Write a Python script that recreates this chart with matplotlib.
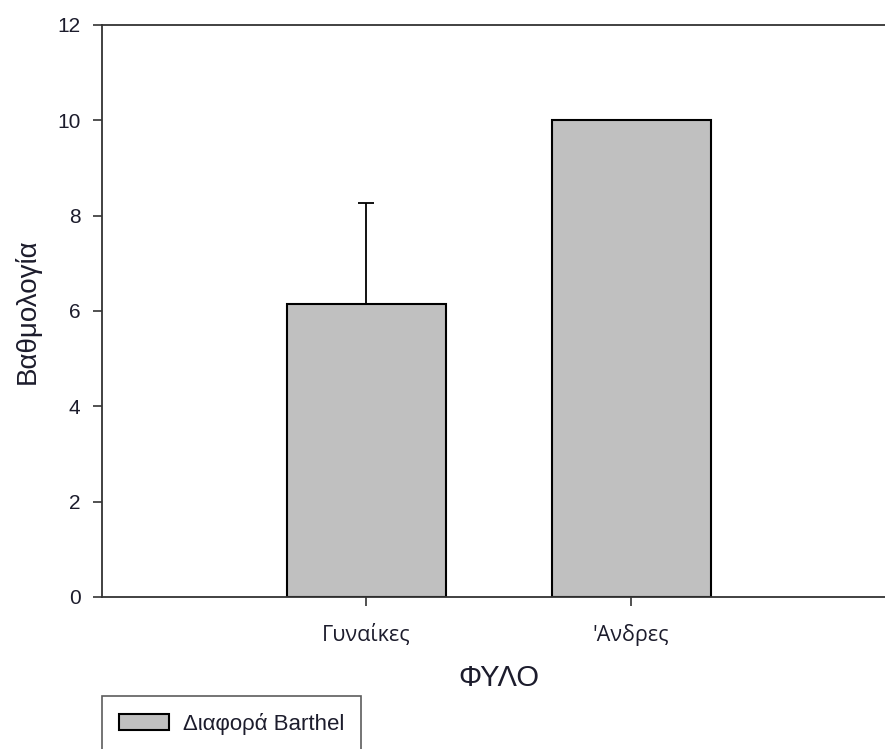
import matplotlib
matplotlib.use("Agg")
import matplotlib.pyplot as plt

categories = ["Γυναίκες", "'Ανδρες"]
values = [6.15, 10.0]
err_upper = [2.12, 0.0]
series_label = "Διαφορά Barthel"
yticks = [0, 2, 4, 6, 8, 10, 12]

text_color = "#1c1c2c"

fig = plt.figure(figsize=(8.85, 7.49), dpi=100)
ax = fig.add_axes([102/885, 152/749, 794/885, 572/749])

x = list(range(len(categories)))
bars = ax.bar(x, values, width=0.6, color="#c0c0c0", edgecolor="black",
              linewidth=1.5, label=series_label, zorder=2)
ax.errorbar(x, values, yerr=[[0]*len(values), err_upper], fmt="none",
            ecolor="black", elinewidth=1.3, capsize=6.1, capthick=1.3, zorder=1)

ax.set_xlim(-0.997, 2.0)
ax.set_ylim(0, 12)
ax.set_yticks(yticks)
ax.set_xticks(x)
ax.set_xticklabels(categories, fontfamily="Open Sans", fontsize=15.5, color=text_color)
for lbl in ax.get_yticklabels():
    lbl.set_fontfamily("Liberation Sans")
    lbl.set_fontsize(15)
    lbl.set_color(text_color)

ax.tick_params(axis="both", direction="out", length=6.5, width=1.2, color="#333333")
ax.tick_params(axis="x", pad=13)
ax.tick_params(axis="y", pad=9)

for side in ["left", "top", "bottom"]:
    ax.spines[side].set_linewidth(1.3)
    ax.spines[side].set_color("#333333")
ax.spines["right"].set_visible(False)

ax.set_ylabel("Βαθμολογία", fontfamily="Liberation Sans", fontsize=20, color=text_color, labelpad=12)
ax.set_xlabel("ΦΥΛΟ", fontfamily="Liberation Sans", fontsize=21, color=text_color, labelpad=13)

leg = fig.legend(handles=[bars], labels=[series_label], loc="upper left",
                 bbox_to_anchor=(102/885, 1 - 696/749), bbox_transform=fig.transFigure,
                 frameon=True, fancybox=False, edgecolor="#333333",
                 prop={"family": "Liberation Sans", "size": 16},
                 handlelength=2.25, handleheight=0.73, handletextpad=0.64,
                 borderpad=0.75, borderaxespad=0)
leg.get_frame().set_linewidth(1.2)
for t in leg.get_texts():
    t.set_color(text_color)

fig.savefig("out.png", dpi=100)
